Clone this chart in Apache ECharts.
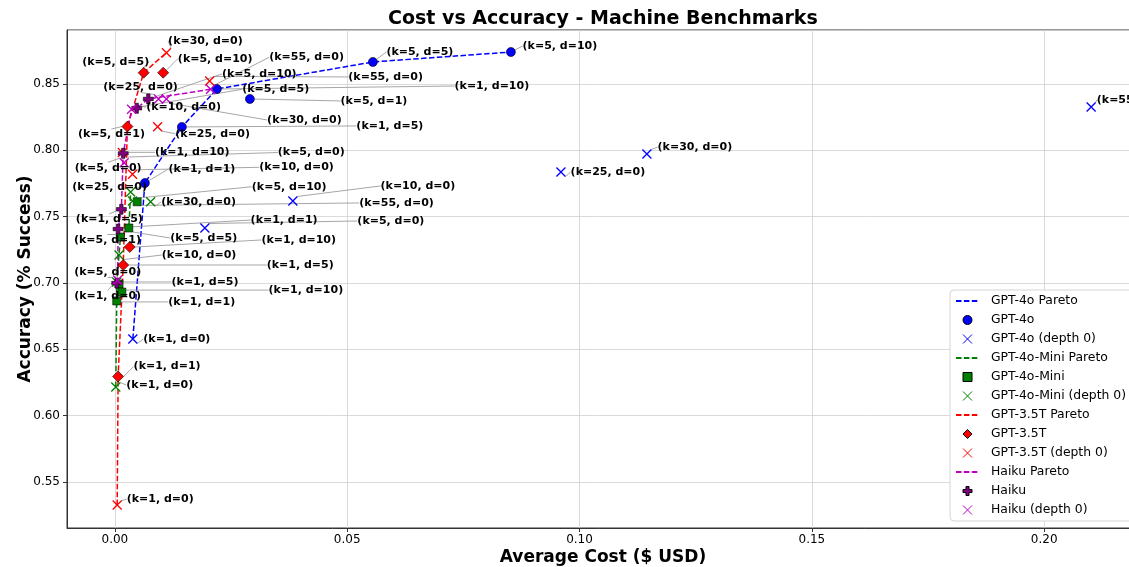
<!DOCTYPE html>
<html>
<head>
<meta charset="utf-8">
<script src="https://cdn.jsdelivr.net/npm/echarts@6/dist/echarts.min.js"></script>
<style>
html, body { margin: 0; padding: 0; background: #fff; }
#chart { width: 1129px; height: 567px; }
</style>
</head>
<body>
<div id="chart"></div>
<script>
// run labels, same order in every group below
var runTags = ['(k=1, d=1)', '(k=1, d=5)', '(k=1, d=10)', '(k=5, d=1)', '(k=5, d=5)', '(k=5, d=10)'];
var depth0Tags = ['(k=1, d=0)', '(k=5, d=0)', '(k=10, d=0)', '(k=25, d=0)', '(k=30, d=0)', '(k=55, d=0)'];

// [average cost ($), accuracy]
var gpt4oRuns = [[0.00646, 0.7753], [0.01442, 0.8176], [0.02195, 0.8462], [0.02906, 0.8387], [0.05553, 0.8666], [0.08523, 0.8741]];
var gpt4oD0 = [[0.00387, 0.6577], [0.01937, 0.7414], [0.03831, 0.7618], [0.0960, 0.7836], [0.1145, 0.7972], [0.2101, 0.8327]];
var miniRuns = [[0.0004, 0.6864], [0.0009, 0.6992], [0.0015, 0.6931], [0.0012, 0.7346], [0.0030, 0.7414], [0.0048, 0.7612]];
var miniD0 = [[0.0002, 0.6215], [0.0004, 0.7007], [0.0009, 0.7210], [0.0034, 0.7686], [0.0077, 0.7612], [0.0038, 0.7618]];
var gpt35Runs = [[0.0007, 0.6294], [0.0018, 0.7135], [0.0032, 0.7271], [0.0027, 0.8179], [0.0062, 0.8585], [0.0104, 0.8585]];
var gpt35D0 = [[0.0005, 0.5325], [0.0016, 0.7983], [0.0038, 0.7819], [0.0092, 0.8178], [0.0111, 0.8736], [0.0204, 0.8523]];
var haikuRuns = [[0.0007, 0.7406], [0.0014, 0.7555], [0.0018, 0.7977], [0.0004, 0.6999], [0.0047, 0.8317], [0.0072, 0.8387]];
var haikuD0 = [[0.0006, 0.7022], [0.0020, 0.7906], [0.0036, 0.8309], [0.0094, 0.8387], [0.0111, 0.8387], [0.0206, 0.8460]];

// points on each pareto front, cheapest first
var gpt4oFront = ['(k=1, d=0)', '(k=1, d=1)', '(k=1, d=5)', '(k=1, d=10)', '(k=5, d=5)', '(k=5, d=10)'];
var miniFront = ['(k=1, d=0)', '(k=1, d=1)', '(k=5, d=0)', '(k=10, d=0)', '(k=5, d=1)', '(k=5, d=5)', '(k=25, d=0)'];
var gpt35Front = ['(k=1, d=0)', '(k=1, d=1)', '(k=1, d=5)', '(k=5, d=1)', '(k=5, d=5)', '(k=30, d=0)'];
var haikuFront = ['(k=5, d=1)', '(k=1, d=0)', '(k=1, d=1)', '(k=1, d=5)', '(k=1, d=10)', '(k=10, d=0)', '(k=5, d=5)', '(k=5, d=10)', '(k=55, d=0)'];

// label placement (pixel shift from the marker), like adjustText did it
var shift = {
    gpt4o: [[57, -14], [208, -1], [275, -3], [124, 2], [47, -10], [49, -6]],
    gpt4oD0: [[44, 0], [186, -7], [125, -15], [47, 0], [48, -7], [43, -7]],
    mini: [[85, 1], [86, -2], [184, -2], [-13, 3], [75, 10], [152, -15]],
    miniD0: [[44, -2], [-9, -10], [80, 0], [-21, -5], [48, 0], [264, 2]],
    gpt35: [[49, -10], [177, 0], [169, -7], [-16, 8], [-28, -11], [52, -14]],
    gpt35D0: [[43, -6], [189, 0], [164, -7], [55, 7], [39, -12], [176, -4]],
    haiku: [[166, -9], [-12, 10], [69, -1], null, [139, -19], [111, -25]],
    haikuD0: [[-10, 16], [-16, 5], [52, -2], [-18, -12], [138, 21], [96, -32]]
};

var FONT = 'DejaVu Sans';
var X_PATH = 'path://M0,0L10,10M10,0L0,10';
var PLUS_PATH = 'path://M3.3,0H6.7V3.3H10V6.7H6.7V10H3.3V6.7H0V3.3H3.3Z';
var SQUARE_PATH = 'path://M0,0H10V10H0Z';
var DIAMOND_PATH = 'path://M5,0L10,5L5,10L0,5Z';

function frontLine(name, color, runs, d0, front) {
    var lookup = {};
    runs.forEach(function (p, i) { lookup[runTags[i]] = p; });
    d0.forEach(function (p, i) { lookup[depth0Tags[i]] = p; });
    return {
        name: name,
        type: 'line',
        data: front.map(function (t) { return lookup[t]; }),
        symbol: 'none',
        silent: true,
        lineStyle: { color: color, width: 1.5, type: [5.5, 2.4] },
        itemStyle: { color: color },
        z: 2
    };
}

function markers(name, pts, tags, shifts, symbol, size, style) {
    style.opacity = 1;
    return {
        name: name,
        type: 'scatter',
        symbol: symbol,
        symbolSize: size,
        itemStyle: style,
        silent: true,
        z: 3,
        data: pts.map(function (p, i) {
            return { value: p, label: { show: !!shifts[i] } };
        }),
        label: {
            show: true,
            position: 'inside',
            formatter: function (p) { return tags[p.dataIndex]; },
            color: '#000',
            fontSize: 11,
            fontWeight: 'bold',
            fontFamily: FONT
        },
        labelLine: { show: true, lineStyle: { color: '#8f8f8f', width: 0.8 } },
        labelLayout: function (params) {
            var s = shifts[params.dataIndex];
            if (!s) return {};
            var r = params.rect;
            return {
                x: r.x + r.width / 2 + s[0],
                y: r.y + r.height / 2 + s[1],
                align: 'center',
                verticalAlign: 'middle'
            };
        }
    };
}

var series = [
    frontLine('GPT-4o Pareto', '#0000ff', gpt4oRuns, gpt4oD0, gpt4oFront),
    markers('GPT-4o', gpt4oRuns, runTags, shift.gpt4o, 'circle', 9,
        { color: '#0000ff', borderColor: '#000', borderWidth: 0.6 }),
    markers('GPT-4o (depth 0)', gpt4oD0, depth0Tags, shift.gpt4oD0, X_PATH, 9,
        { color: '#0000ff', borderColor: '#0000ff', borderWidth: 1.3 }),
    frontLine('GPT-4o-Mini Pareto', '#008000', miniRuns, miniD0, miniFront),
    markers('GPT-4o-Mini', miniRuns, runTags, shift.mini, 'rect', 8,
        { color: '#008000', borderColor: '#000', borderWidth: 0.6 }),
    markers('GPT-4o-Mini (depth 0)', miniD0, depth0Tags, shift.miniD0, X_PATH, 9,
        { color: '#008000', borderColor: '#008000', borderWidth: 1.3 }),
    frontLine('GPT-3.5T Pareto', '#ff0000', gpt35Runs, gpt35D0, gpt35Front),
    markers('GPT-3.5T', gpt35Runs, runTags, shift.gpt35, 'diamond', 11,
        { color: '#ff0000', borderColor: '#000', borderWidth: 0.6 }),
    markers('GPT-3.5T (depth 0)', gpt35D0, depth0Tags, shift.gpt35D0, X_PATH, 9,
        { color: '#ff0000', borderColor: '#ff0000', borderWidth: 1.3 }),
    frontLine('Haiku Pareto', '#bf00bf', haikuRuns, haikuD0, haikuFront),
    markers('Haiku', haikuRuns, runTags, shift.haiku, PLUS_PATH, 10,
        { color: '#800080', borderColor: '#000', borderWidth: 0.6 }),
    markers('Haiku (depth 0)', haikuD0, depth0Tags, shift.haikuD0, X_PATH, 9,
        { color: '#bf00bf', borderColor: '#bf00bf', borderWidth: 1.3 })
];

// legend handles: bare dashed line for fronts, square/diamond kept square
var legendIcons = { 'GPT-4o-Mini': SQUARE_PATH, 'GPT-3.5T': DIAMOND_PATH };
var legendData = series.map(function (s) {
    var item = { name: s.name };
    if (s.type === 'line') item.itemStyle = { opacity: 0 };
    if (legendIcons[s.name]) item.icon = legendIcons[s.name];
    return item;
});

var chart = echarts.init(document.getElementById('chart'));
chart.setOption({
    animation: false,
    backgroundColor: '#fff',
    textStyle: { fontFamily: FONT },
    title: {
        text: 'Cost vs Accuracy - Machine Benchmarks',
        left: 388,
        top: 10,
        padding: 0,
        textStyle: { fontSize: 19, fontWeight: 'bold', color: '#000', fontFamily: FONT }
    },
    grid: {
        left: 67, top: 30, width: 1072, height: 498,
        outerBoundsMode: 'none',
        containLabel: false,
        show: true, borderColor: '#333', borderWidth: 1
    },
    xAxis: {
        type: 'value',
        min: -0.0103,
        max: 0.2204,
        minInterval: 0.05,
        maxInterval: 0.05,
        name: 'Average Cost ($ USD)',
        nameLocation: 'middle',
        nameGap: 21.5,
        nameMoveOverlap: false,
        nameTextStyle: { fontSize: 17, fontWeight: 'bold', color: '#000', fontFamily: FONT },
        axisLine: { onZero: false, lineStyle: { color: '#333' } },
        axisTick: { length: 4, lineStyle: { color: '#333' } },
        axisLabel: {
            color: '#000', fontSize: 12, fontFamily: FONT, margin: 6,
            showMinLabel: false, showMaxLabel: false,
            formatter: function (v) { return v.toFixed(2); }
        },
        splitLine: { lineStyle: { color: '#d0d0d0', width: 0.8 } }
    },
    yAxis: {
        type: 'value',
        min: 0.5152,
        max: 0.8907,
        minInterval: 0.05,
        maxInterval: 0.05,
        name: 'Accuracy (% Success)',
        nameLocation: 'middle',
        nameGap: 33,
        nameMoveOverlap: false,
        nameTextStyle: { fontSize: 17, fontWeight: 'bold', color: '#000', fontFamily: FONT },
        axisLine: { show: true, onZero: false, lineStyle: { color: '#333' } },
        axisTick: { show: true, length: 4, lineStyle: { color: '#333' } },
        axisLabel: {
            color: '#000', fontSize: 12, fontFamily: FONT, margin: 7,
            showMinLabel: false, showMaxLabel: false,
            formatter: function (v) { return v.toFixed(2); }
        },
        splitLine: { lineStyle: { color: '#d0d0d0', width: 0.8 } }
    },
    legend: {
        orient: 'vertical',
        left: 950,
        top: 290,
        itemWidth: 23,
        itemHeight: 9,
        itemGap: 7,
        padding: [5, 10, 5, 5],
        backgroundColor: '#fff',
        borderColor: '#d5d5d5',
        borderWidth: 1,
        borderRadius: 4,
        selectedMode: false,
        itemStyle: { borderWidth: 1 },
        textStyle: { fontSize: 12.4, color: '#000', fontFamily: FONT, padding: [0, 0, 0, 7] },
        data: legendData
    },
    series: series
});
</script>
</body>
</html>
